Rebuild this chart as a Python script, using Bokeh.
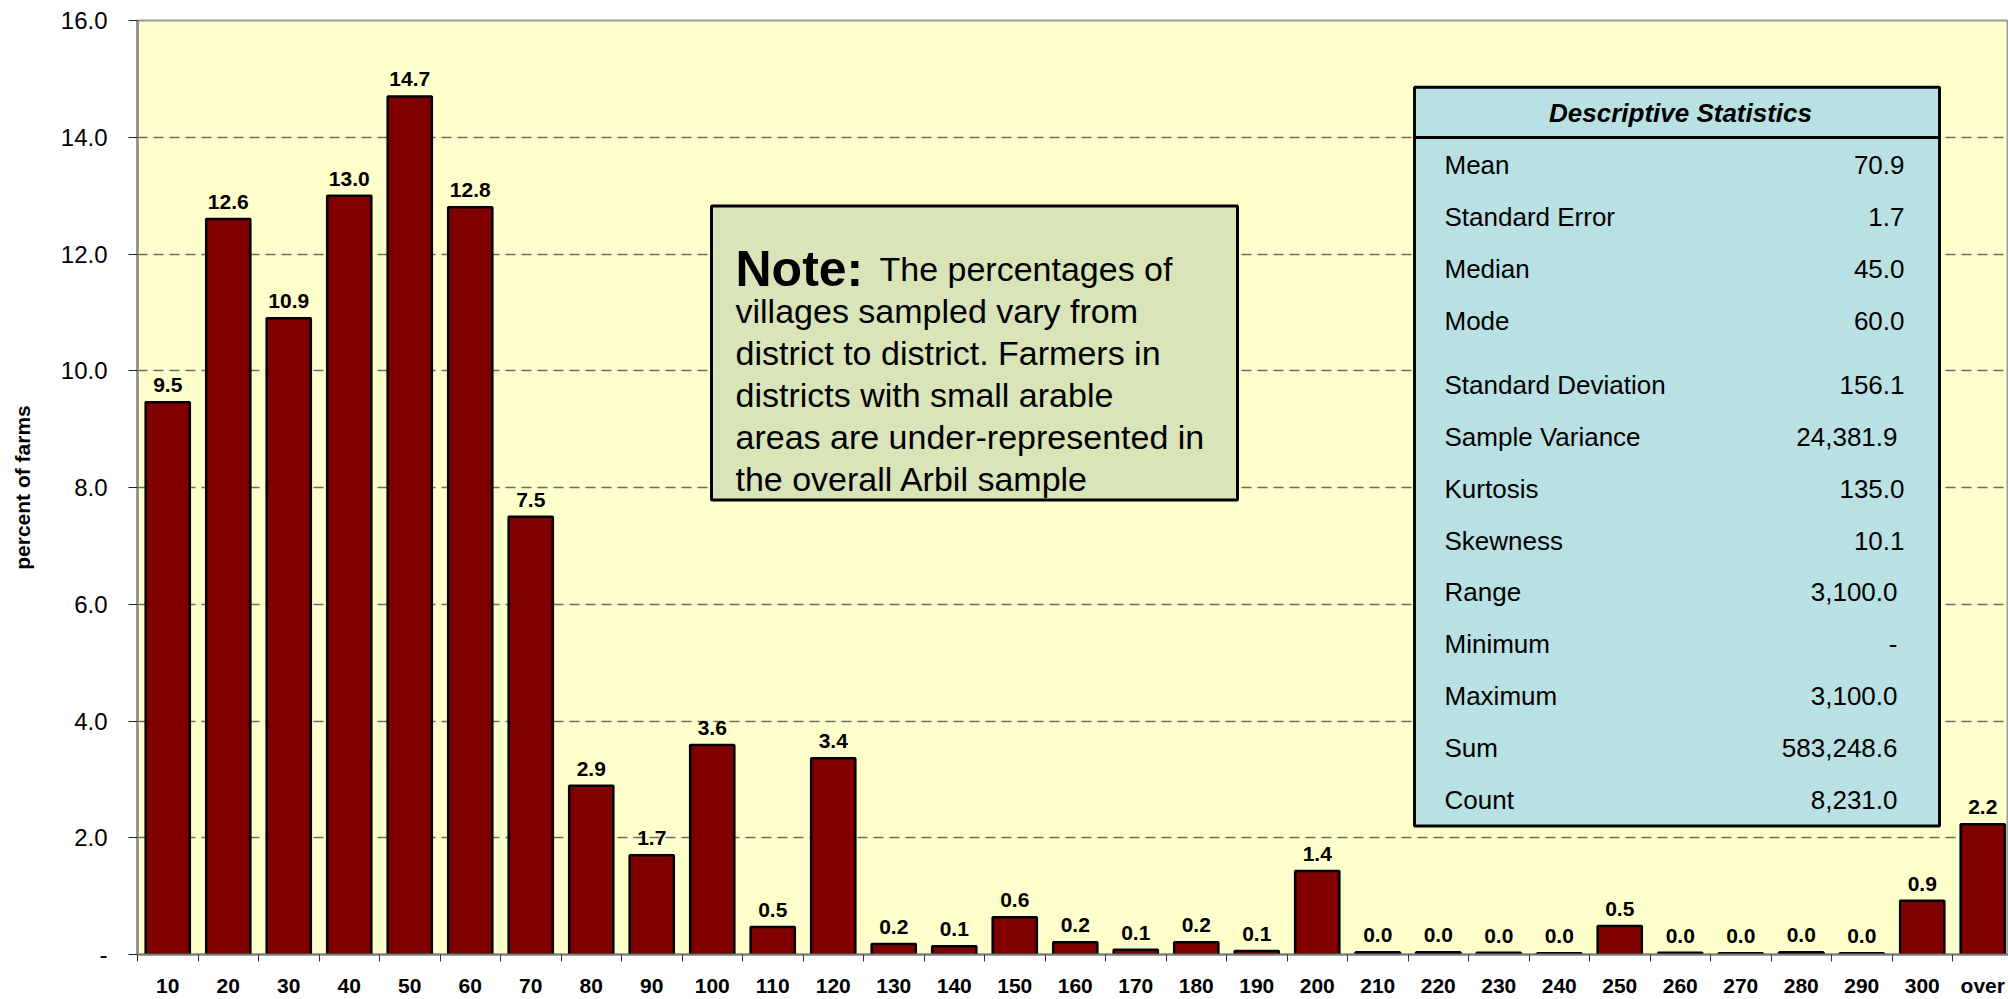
from bokeh.plotting import figure
from bokeh.models import Range1d, FixedTicker, ColumnDataSource, BoxAnnotation, Label
from bokeh.core.properties import value
from bokeh.embed import file_html
from bokeh.resources import INLINE

# ---------------- data ----------------
categories = ["10", "20", "30", "40", "50", "60", "70", "80", "90", "100",
              "110", "120", "130", "140", "150", "160", "170", "180", "190", "200",
              "210", "220", "230", "240", "250", "260", "270", "280", "290", "300", "over"]
percent_farms = [9.46, 12.6, 10.9, 13.0, 14.7, 12.8, 7.5, 2.89, 1.70, 3.59,
                 0.47, 3.36, 0.18, 0.14, 0.64, 0.21, 0.08, 0.21, 0.06, 1.43,
                 0.04, 0.04, 0.03, 0.02, 0.49, 0.03, 0.02, 0.04, 0.02, 0.92, 2.23]
y_ticks = [0, 2, 4, 6, 8, 10, 12, 14, 16]
y_tick_labels = ["-", "2.0", "4.0", "6.0", "8.0", "10.0", "12.0", "14.0", "16.0"]
y_axis_title = "percent of farms"

stats_title = "Descriptive Statistics"
stat_names = ["Mean", "Standard Error", "Median", "Mode", "Standard Deviation",
              "Sample Variance", "Kurtosis", "Skewness", "Range", "Minimum",
              "Maximum", "Sum", "Count"]
stat_values = ["70.9", "1.7", "45.0", "60.0", "156.1", "24,381.9", "135.0",
               "10.1", "3,100.0", "-", "3,100.0", "583,248.6", "8,231.0"]

note_head = "Note:"
note_lines = ["The percentages of",
              "villages sampled vary from",
              "district to district. Farmers in",
              "districts with small arable",
              "areas are under-represented in",
              "the overall Arbil sample"]

# ---------------- layout ----------------
FONT = "Liberation Sans"
W, H = 2008, 999
FRAME_L, FRAME_T, FRAME_B = 137, 20, 957      # page pixels
CAT_W = 60.5                                    # px per category
Y_PX = (FRAME_B - FRAME_T) / 16.0

x_pos = list(range(1, len(categories) + 1))
x_end = 0.5 + (W - FRAME_L) / CAT_W


def px(xp):
    return 0.5 + (xp - FRAME_L) / CAT_W


def py(yp):
    return (FRAME_B - yp) / Y_PX


p = figure(width=W, height=H, x_range=Range1d(0.5, x_end), y_range=Range1d(0, 16),
           output_backend="svg", toolbar_location=None,
           min_border_left=FRAME_L, min_border_right=0,
           min_border_top=FRAME_T, min_border_bottom=H - FRAME_B)

p.background_fill_color = "#FFFFCC"
p.border_fill_color = "white"
p.outline_line_color = "#9a9a9a"
p.outline_line_width = 2

# grid
p.xgrid.visible = False
p.ygrid.ticker = FixedTicker(ticks=[t for t in y_ticks if 0 < t < 16])
p.ygrid.grid_line_color = "#6a6a6a"
p.ygrid.grid_line_width = 1.5
p.ygrid.grid_line_dash = "10 6"

# y axis
p.yaxis.ticker = FixedTicker(ticks=y_ticks)
p.yaxis.major_label_overrides = {t: lab for t, lab in zip(y_ticks, y_tick_labels)}
p.yaxis.major_label_text_font = FONT
p.yaxis.major_label_text_font_size = "24px"
p.yaxis.major_label_text_color = "black"
p.yaxis.major_tick_out = 9
p.yaxis.major_tick_in = 0
p.yaxis.minor_tick_out = 0
p.yaxis.minor_tick_in = 0
p.yaxis.major_tick_line_color = "#222222"
p.yaxis.major_label_standoff = 21
p.yaxis.axis_line_color = "#8c8c8c"
p.yaxis.axis_line_width = 2.5
p.yaxis.axis_label = y_axis_title
p.yaxis.axis_label_text_font = FONT
p.yaxis.axis_label_text_font_style = "bold"
p.yaxis.axis_label_text_font_size = "21px"
p.yaxis.axis_label_text_color = "black"
p.yaxis.axis_label_standoff = 24

# x axis: labels at category centres, ticks at category boundaries
p.xaxis.ticker = FixedTicker(ticks=x_pos, minor_ticks=[i + 0.5 for i in range(0, len(categories) + 1)])
p.xaxis.major_label_overrides = {x: c for x, c in zip(x_pos, categories)}
p.xaxis.major_label_text_font = FONT
p.xaxis.major_label_text_font_style = "bold"
p.xaxis.major_label_text_font_size = "21px"
p.xaxis.major_label_text_color = "black"
p.xaxis.major_tick_out = 0
p.xaxis.major_tick_in = 0
p.xaxis.minor_tick_out = 7
p.xaxis.minor_tick_in = 0
p.xaxis.minor_tick_line_color = "#333333"
p.xaxis.major_label_standoff = 12
p.xaxis.axis_line_color = "#7a7a7a"
p.xaxis.axis_line_width = 2

# bars
src = ColumnDataSource(dict(x=x_pos, top=percent_farms,
                            label=[f"{v:.1f}" for v in percent_farms]))
p.vbar(x="x", top="top", width=0.73, bottom=0, source=src,
       fill_color="#800000", line_color="black", line_width=2.5)
p.text(x="x", y="top", text="label", source=src, text_align="center",
       text_baseline="alphabetic", y_offset=-17,
       text_font=value(FONT), text_font_style="bold", text_font_size="21px",
       text_color="black")

# note box
p.add_layout(BoxAnnotation(left=px(711), right=px(1237), top=py(206), bottom=py(501),
                           fill_color="#D9E4B9", fill_alpha=1.0,
                           line_color="black", line_width=3, line_alpha=1.0))
p.add_layout(Label(x=px(735), y=py(269), text=note_head, text_font=FONT,
                   text_font_style="bold", text_font_size="50px", text_color="black",
                   text_align="left", text_baseline="alphabetic"))
note_x = [879] + [735] * (len(note_lines) - 1)
for i, line in enumerate(note_lines):
    p.add_layout(Label(x=px(note_x[i]), y=py(269 + 42.2 * i), text=line, text_font=FONT,
                       text_font_size="34px", text_color="black",
                       text_align="left", text_baseline="alphabetic"))

# descriptive statistics box
p.add_layout(BoxAnnotation(left=px(1414), right=px(1939), top=py(87), bottom=py(137.5),
                           fill_color="#B9E0E3", fill_alpha=1.0,
                           line_color="black", line_width=3, line_alpha=1.0))
p.add_layout(BoxAnnotation(left=px(1414), right=px(1939), top=py(137.5), bottom=py(828),
                           fill_color="#B9E0E3", fill_alpha=1.0,
                           line_color="black", line_width=3, line_alpha=1.0))
p.add_layout(Label(x=px(1680), y=py(113), text=stats_title, text_font=FONT,
                   text_font_style="bold italic", text_font_size="26px", text_color="black",
                   text_align="center", text_baseline="middle"))
for i, (name, val) in enumerate(zip(stat_names, stat_values)):
    yrow = 165 + 52.1 * i + (12 if i >= 4 else 0)
    p.add_layout(Label(x=px(1444), y=py(yrow), text=name, text_font=FONT,
                       text_font_size="26px", text_color="black",
                       text_align="left", text_baseline="middle"))
    xr = 1897 if ("," in val or val == "-") else 1904
    p.add_layout(Label(x=px(xr), y=py(yrow), text=val, text_font=FONT,
                       text_font_size="26px", text_color="black",
                       text_align="right", text_baseline="middle"))

open("out.html", "w").write(file_html(p, INLINE))
